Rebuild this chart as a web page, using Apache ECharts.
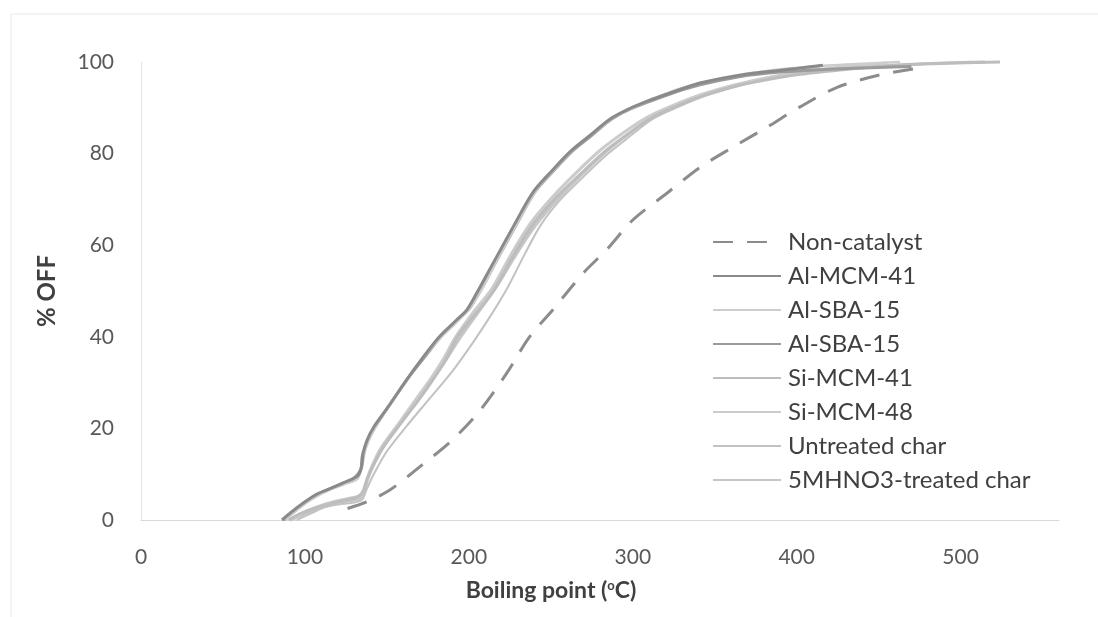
<!DOCTYPE html>
<html>
<head>
<meta charset="utf-8">
<script src="https://cdn.jsdelivr.net/npm/echarts@6/dist/echarts.min.js"></script>
<style>
html,body{margin:0;padding:0;background:#fff;}
#chart{width:1098px;height:617px;}
</style>
</head>
<body>
<div id="chart"></div>
<script>
// Tick labels
const xTicks = [0, 100, 200, 300, 400, 500];
const yTicks = [0, 20, 40, 60, 80, 100];

// Series names (legend order)
const seriesNames = ['Non-catalyst', 'Al-MCM-41', 'Al-SBA-15', 'Al-SBA-15\u200b', 'Si-MCM-41', 'Si-MCM-48', 'Untreated char', '5MHNO3-treated char'];

// Data: [boiling point (°C), % OFF]
const nonCatalyst = [[126,2.5],[138,4],[152,6.6],[170,11.6],[190,17.5],[207,24],[223,32],[237,40],[251,45.8],[270,54],[284,59],[300,65.5],[321,71.4],[341,77],[361,81.4],[382,85.8],[402,90.2],[425,94.5],[451,97.2],[475,98.7]];
const alMCM41 = [[86,0],[92,1.8],[99,3.7],[107,5.6],[115,6.8],[124,8.2],[132,9.6],[134.5,11.5],[135.5,14.6],[138,17.5],[142,20.3],[150,24.3],[162,30.6],[172,35.5],[182,40],[192,43.5],[199,46],[207,51],[217,57.5],[227,64],[239,71.5],[250,76],[262,80.5],[274,84],[286,87.5],[298,89.8],[310,91.6],[321,93],[341,95.4],[360,96.8],[380,97.8],[400,98.6],[416,99.3]];
const alSBA15a = [[88,0],[95,2.2],[104,4.5],[114,6.4],[124,7.8],[132,9],[135,12],[137,15.5],[141,19],[148,23],[160,29.5],[171,35],[182,39.5],[192,43],[200,46],[209,51],[219,58],[229,64.5],[241,72],[252,76.5],[264,81],[276,84.5],[288,87.8],[300,90],[321,93.2],[341,95.4],[362,97],[385,98.2],[410,99],[440,99.6],[463,100]];
const alSBA15b = [[87,0],[94,2],[101,4],[110,6],[120,7.5],[130,9.2],[134,11],[135,14],[138,17],[143,20.5],[151,24.8],[163,31],[174,36],[184,40.5],[194,44],[201,46.5],[209,51.5],[219,58],[229,64.5],[240,71.5],[251,76],[263,80.5],[275,84],[287,87.5],[299,89.8],[321,92.8],[341,95],[365,96.8],[390,97.8],[420,98.4],[450,98.8],[470,99]];
const siMCM41 = [[90,0],[98,1.5],[109,2.9],[118,3.8],[125,4.4],[132,5],[136,6.5],[138,9],[141,11.5],[148,16],[160,21.8],[170,26.5],[178,30.6],[186,35],[193,40],[204,45],[215,50],[226,57],[238,64],[252,70],[268,75.5],[283,80.5],[298,84.5],[310,87.5],[321,89.5],[341,92.4],[360,94.5],[380,96],[400,97.2],[425,98.2],[450,99],[480,99.6],[524,100]];
const siMCM48 = [[92,0],[100,1.8],[110,3.2],[120,4.2],[128,4.8],[134,5.5],[137,8],[140,11],[146,15.5],[158,21.5],[168,26.5],[177,31],[185,35.5],[192,40],[203,45.5],[214,50.5],[225,57.5],[237,64.5],[251,70.5],[266,76],[281,81],[296,85],[309,88],[321,90],[341,92.8],[362,95],[385,96.8],[410,98.2],[435,99.2],[455,99.8]];
const untreatedChar = [[95,0],[104,1.5],[112,2.8],[122,3.5],[130,3.8],[135,4.5],[138,7],[142,10],[150,15],[162,20.5],[176,26.5],[190,32.5],[203,39],[214,45],[224,51],[234,58],[244,64.5],[256,70],[270,75],[285,80],[299,84],[311,87.3],[322,89.3],[341,92.2],[360,94.3],[378,96],[395,97.5],[414,99]];
const hno3Char = [[91,0],[99,1.2],[108,2.5],[118,3.5],[127,4.2],[134,4.8],[137,7.5],[140,10.5],[147,15.5],[159,21.5],[169,26.5],[178,31],[187,35.5],[195,40],[206,45.5],[217,51],[228,57.5],[240,64],[254,70],[269,75.5],[284,80.5],[299,84.8],[311,87.8],[322,89.8],[341,92.6],[362,94.8],[385,96.5],[410,97.8],[440,98.8],[470,99.5],[500,99.9],[515,100]];

const seriesData = [nonCatalyst, alMCM41, alSBA15a, alSBA15b, siMCM41, siMCM48, untreatedChar, hno3Char];
const styles = [
  {color:'#8c8c8c', width:3, type:[20,14]},
  {color:'#8a8a8a', width:3, type:'solid'},
  {color:'#cdcdcd', width:2.5, type:'solid'},
  {color:'#9b9b9b', width:3, type:'solid'},
  {color:'#bdbdbd', width:3, type:'solid'},
  {color:'#cbcbcb', width:3, type:'solid'},
  {color:'#c2c2c2', width:2, type:'solid'},
  {color:'#c6c6c6', width:3, type:'solid'}
];

const FONT = 'Lato, "Open Sans", sans-serif';
const chart = echarts.init(document.getElementById('chart'), null, {renderer:'canvas'});
chart.setOption({
  backgroundColor:'#ffffff',
  animation:false,
  graphic:[
    {type:'rect', shape:{x:11,y:14,width:1200,height:700}, style:{fill:'none', stroke:'#e9e9e9', lineWidth:1}, silent:true},
    {type:'text', x:551, y:591, silent:true, style:{
      text:'{a|Boiling point (}{s|o}{a|C)}', align:'center', verticalAlign:'middle',
      rich:{a:{fontFamily:FONT, fontSize:23, fontWeight:'bold', fill:'#404040', color:'#404040'},
            s:{fontFamily:FONT, fontSize:13, fontWeight:'bold', fill:'#404040', color:'#404040', verticalAlign:'top', padding:[0,0,10,0]}}
    }}
  ],
  grid:{left:141, right:39, top:62, bottom:97, containLabel:false},
  legend:{
    orient:'vertical', left:707, top:225,
    itemWidth:68, itemHeight:14, itemGap:10,
    itemStyle:{opacity:0},
    textStyle:{fontFamily:FONT, fontSize:24, color:'#404040', padding:[0,0,0,2]},
    data: seriesNames
  },
  xAxis:{
    type:'value', min:0, max:560, interval:100,
    axisLine:{show:true, lineStyle:{color:'#d9d9d9', width:1}},
    axisTick:{show:false}, splitLine:{show:false},
    axisLabel:{fontFamily:FONT, fontSize:21, color:'#595959', margin:27, showMaxLabel:false,
      formatter:v=> xTicks.includes(v) ? String(v) : ''}
  },
  yAxis:{
    type:'value', min:0, max:100, interval:20,
    name:'% OFF', nameLocation:'middle', nameGap:82, nameRotate:90,
    nameTextStyle:{fontFamily:FONT, fontSize:24, fontWeight:'bold', color:'#404040'},
    axisLine:{show:true, lineStyle:{color:'#e3e3e3', width:1}},
    axisTick:{show:false}, splitLine:{show:false},
    axisLabel:{fontFamily:FONT, fontSize:21, color:'#595959', margin:27,
      formatter:v=> yTicks.includes(v) ? String(v) : ''}
  },
  series: seriesData.map((d,i)=>({
    name: seriesNames[i], type:'line', data:d, symbol:'none', smooth:0.3, clip:false,
    lineStyle:{color:styles[i].color, width:styles[i].width, type:styles[i].type},
    itemStyle:{color:styles[i].color},
    z: 10 - i
  }))
});
</script>
</body>
</html>
